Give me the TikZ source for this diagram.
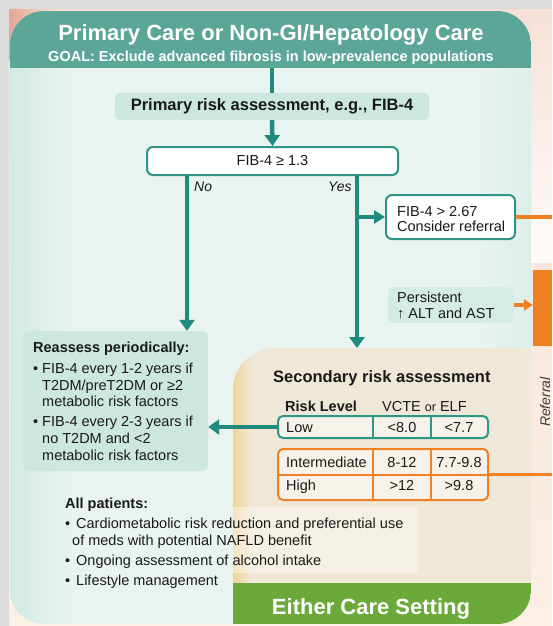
\documentclass[tikz,border=0pt]{standalone}
\usepackage{fontspec}
\setmainfont{Liberation Sans}
\usetikzlibrary{arrows.meta,calc}

% palette
\definecolor{bgGray}{HTML}{DCDCDC}
\definecolor{peachTop}{HTML}{F6E0D7}
\definecolor{peachBot}{HTML}{FCEFE3}
\definecolor{cornerPink}{HTML}{E4A893}
\definecolor{hdrTeal}{HTML}{5BA696}
\definecolor{lineTeal}{HTML}{1E8B7C}
\definecolor{edgeTeal}{HTML}{2E9687}
\definecolor{mintL}{HTML}{D3EAE4}
\definecolor{mintC}{HTML}{E9F3F0}
\definecolor{mintR}{HTML}{DDEEE9}
\definecolor{boxTeal}{HTML}{CBE7E0}
\definecolor{tanE}{HTML}{F2D496}
\definecolor{tanC}{HTML}{EFE8D8}
\definecolor{tblFill}{HTML}{F6F2EA}
\definecolor{refOrange}{HTML}{EF8024}
\definecolor{footGreen}{HTML}{6BAA3A}
\definecolor{inkText}{HTML}{1A1A1A}

\pgfdeclarehorizontalshading{mintbody}{100bp}{color(0bp)=(mintL); color(25bp)=(mintL); color(31bp)=(mintC); color(70bp)=(mintC); color(75bp)=(mintR); color(100bp)=(mintR)}
\pgfdeclarehorizontalshading{tanbody}{100bp}{color(0bp)=(tanE); color(25bp)=(tanE); color(28bp)=(tanC); color(100bp)=(tanC)}

\newcommand\bodysz{\fontsize{14.5}{17}\selectfont}
\newcommand\headsz{\fontsize{16.5}{19}\selectfont}

\tikzset{
  tealline/.style={draw=lineTeal, line width=4.5pt},
  tealarrow/.style={tealline, -{Triangle[width=15pt,length=11pt]}},
  forkarrow/.style={tealline, -{Triangle[width=13pt,length=11pt]}},
  orangeline/.style={draw=refOrange, line width=3.5pt},
  orangearrow/.style={orangeline, -{Triangle[width=11pt,length=9pt]}},
  panelbox/.style={rectangle, rounded corners=6pt, inner sep=0pt},
  whitebox/.style={panelbox, draw=edgeTeal, line width=2pt, fill=white!97!mintC},
  softbox/.style={panelbox, fill=boxTeal},
  tablebox/.style={rectangle, rounded corners=5pt, line width=2pt, fill=tblFill, inner sep=0pt},
  txt/.style={anchor=base west, inner sep=0pt, text=inkText, font=\bodysz},
  ctxt/.style={anchor=base, inner sep=0pt, text=inkText, font=\bodysz},
}

\begin{document}
\begin{tikzpicture}[x=1pt, y=-1pt]
\useasboundingbox (0,0) rectangle (552,626);

% backdrop
\fill[bgGray] (0,0) rectangle (552,626);
\shade[top color=peachTop, bottom color=peachBot] (9,10) rectangle (552,626);
\shade[left color=cornerPink, right color=peachTop] (9,10) rectangle (60,60);
\shade[top color=peachTop, bottom color=white!85!peachTop] (531,10) rectangle (552,262);

% main panel with header, secondary panel and footer
\begin{scope}
  \clip[rounded corners=34pt] (10,11) rectangle (531,624);
  \shade[shading=mintbody] (10,11) rectangle (531,624);
  \fill[hdrTeal] (10,11) rectangle (531,68);
  \shade[shading=tanbody] (233,624) -- (233,390)
      arc[start angle=180, end angle=270, radius=42] -- (531,348) -- (531,624) -- cycle;
  \fill[white, opacity=0.38] (233,507) rectangle (418,573);
  \fill[footGreen] (233,583) rectangle (531,624);
\end{scope}

% header texts
\node[anchor=base, inner sep=0pt, text=white, font=\bfseries\fontsize{22}{26}\selectfont]
  (title) at (271,41) {Primary Care or Non-GI/Hepatology Care};
\node[anchor=base, inner sep=0pt, text=white, font=\bfseries\bodysz]
  (goal) at (271,62) {GOAL: Exclude advanced fibrosis in low-prevalence populations};

% referral side
\node[rectangle, fill=refOrange, minimum width=19pt, minimum height=76pt, inner sep=0pt]
  (oblock) at (542.5,308) {};
\node[rotate=90, inner sep=0pt, text=inkText!85, font=\itshape\fontsize{14}{16}\selectfont]
  (referral) at (545,402) {Referral};

% boxes
\node[softbox, minimum width=314pt, minimum height=27pt, font=\bfseries\headsz, text=inkText]
  (primary) at (272,106.5) {Primary risk assessment, e.g., FIB-4};
\node[whitebox, minimum width=251pt, minimum height=28pt, font=\bodysz, text=inkText]
  (fib) at (272.5,161) {FIB-4 ≥ 1.3};
\node[whitebox, minimum width=129pt, minimum height=44pt] (fib267) at (450.5,217) {};
\node[softbox, fill=boxTeal!80!white, minimum width=126pt, minimum height=36pt] (persist) at (451,305) {};
\node[softbox, minimum width=185pt, minimum height=140pt] (reassess) at (115.5,401) {};
\node[tablebox, draw=edgeTeal, minimum width=210pt, minimum height=22pt] (lowrow) at (383,427) {};
\node[tablebox, draw=refOrange, minimum width=210pt, minimum height=51pt] (ihrow) at (383,474.5) {};

% table rules
\draw[edgeTeal, line width=1.3pt] (373,416) -- (373,438) (431,416) -- (431,438);
\draw[refOrange, line width=1.3pt] (373,449) -- (373,500) (431,449) -- (431,500) (278,475) -- (488,475);

% connectors
\coordinate (hdrfoot) at (272,68);
\coordinate (noTop) at (187,175);
\coordinate (yesTop) at (357,175);
\coordinate (secTop) at (357,348);
\coordinate (fork) at (357,217);
\coordinate (edgeA) at (552,217);
\coordinate (edgeB) at (552,474.5);
\draw[tealline] (hdrfoot) -- (primary.north);
\draw[tealarrow] (primary.south) -- (fib.north);
\draw[tealarrow] (noTop) -- (noTop |- reassess.north);
\draw[tealarrow] (yesTop) -- (secTop);
\draw[forkarrow] (fork) -- (fib267.west);
\draw[tealarrow] (lowrow.west) -- (lowrow.west -| reassess.east);
\draw[orangeline] (fib267.east) -- (edgeA);
\draw[orangearrow] (persist.east) -- (persist.east -| oblock.west);
\draw[orangeline] (ihrow.east) -- (edgeB);

% branch labels
\node[txt, font=\itshape\fontsize{14}{16}\selectfont] (nolbl) at (194,191) {No};
\node[txt, font=\itshape\fontsize{14}{16}\selectfont] (yeslbl) at (328,191) {Yes};

% side boxes text
\node[txt] (t267a) at (397,216) {FIB-4 > 2.67};
\node[txt] (t267b) at (397,231) {Consider referral};
\node[txt] (tpa) at (397,302) {Persistent};
\node[txt] (tpb) at (397,318) {↑ ALT and AST};

% reassess text
\node[txt, font=\bfseries\bodysz] (rhead) at (33,352) {Reassess periodically:};
\node[txt] (rb1) at (33,373) {•};
\node[txt] (r1) at (42,373) {FIB-4 every 1-2 years if};
\node[txt] (r2) at (42,390) {T2DM/preT2DM or ≥2};
\node[txt] (r3) at (42,406) {metabolic risk factors};
\node[txt] (rb2) at (33,426) {•};
\node[txt] (r4) at (42,426) {FIB-4 every 2-3 years if};
\node[txt] (r5) at (42,443) {no T2DM and <2};
\node[txt] (r6) at (42,460) {metabolic risk factors};

% secondary assessment
\node[txt, font=\bfseries\headsz] (sechead) at (273,382) {Secondary risk assessment};
\node[txt, font=\bfseries\bodysz] (colrisk) at (285,411) {Risk Level};
\node[txt] (colmeth) at (382,411) {VCTE {\fontsize{12.5}{14}\selectfont or} ELF};
\node[txt] (low) at (286,432) {Low};
\node[ctxt] (lowv) at (402,432) {<8.0};
\node[ctxt] (lowe) at (459,432) {<7.7};
\node[txt] (mid) at (286,467) {Intermediate};
\node[ctxt] (midv) at (402,467) {8-12};
\node[ctxt] (mide) at (459,467) {7.7-9.8};
\node[txt] (high) at (286,490) {High};
\node[ctxt] (highv) at (402,490) {>12};
\node[ctxt] (highe) at (459,490) {>9.8};

% all patients
\node[txt, font=\bfseries\bodysz] (allhead) at (65,508) {All patients:};
\node[txt] (ab1) at (65,528) {•};
\node[txt] (a1) at (76,528) {Cardiometabolic risk reduction and preferential use};
\node[txt] (a2) at (72,545) {of meds with potential NAFLD benefit};
\node[txt] (ab2) at (65,565) {•};
\node[txt] (a3) at (76,565) {Ongoing assessment of alcohol intake};
\node[txt] (ab3) at (65,585) {•};
\node[txt] (a4) at (76,585) {Lifestyle management};

% footer
\node[anchor=base, inner sep=0pt, text=white, font=\bfseries\fontsize{22}{26}\selectfont]
  (either) at (371,614) {Either Care Setting};
\end{tikzpicture}
\end{document}
